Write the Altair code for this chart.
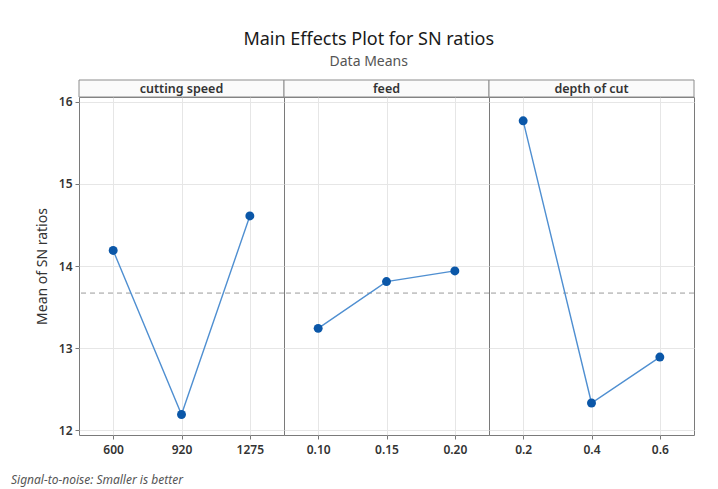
import altair as alt
import pandas as pd

factors = ["cutting speed", "feed", "depth of cut"]
speed_levels = ["600", "920", "1275"]
speed_sn = [14.19, 12.19, 14.61]
feed_levels = ["0.10", "0.15", "0.20"]
feed_sn = [13.24, 13.81, 13.94]
depth_levels = ["0.2", "0.4", "0.6"]
depth_sn = [15.77, 12.33, 12.89]
grand_mean = [13.67]
y_ticks = [12, 13, 14, 15, 16]
footnote = ["Signal-to-noise: Smaller is better"]

W, H = 205, 338
STRIP = 17
FONT = "Noto Sans"
LINE = "#4f8fd1"
DOT = "#0b57a8"


def panel(name, levels, values, first):
    df = pd.DataFrame({"level": levels, "sn": values})
    xenc = alt.X(
        "level:N",
        sort=levels,
        scale=alt.Scale(type="point", padding=0.5),
        axis=alt.Axis(title=None, labelAngle=0, grid=True, labelPadding=5),
    )
    if first:
        yaxis = alt.Axis(values=y_ticks, format="d", title="Mean of SN ratios", grid=True,
                         titlePadding=9, labelPadding=3)
    else:
        yaxis = alt.Axis(values=y_ticks, title=None, grid=True, labels=False,
                         ticks=False, domain=False)
    yenc = alt.Y("sn:Q", scale=alt.Scale(domain=[11.94, 16.06], nice=False, zero=False),
                 axis=yaxis)
    base = alt.Chart(df)
    line = base.mark_line(color=LINE, strokeWidth=1.4).encode(x=xenc, y=yenc)
    pts = base.mark_point(filled=True, color=DOT, size=80, opacity=1).encode(x=xenc, y=yenc)
    rule = alt.Chart(pd.DataFrame({"sn": grand_mean})).mark_rule(
        color="#9a9a9a", strokeDash=[5, 4], strokeWidth=1
    ).encode(y=alt.Y("sn:Q"))
    sdf = pd.DataFrame({"name": [name]})
    strip = alt.Chart(sdf).mark_rect(fill="#fafafa", stroke="#8c8c8c", strokeWidth=1).encode(
        x=alt.value(0), x2=alt.value(W), y=alt.value(-STRIP), y2=alt.value(0)
    )
    stext = alt.Chart(sdf).mark_text(fontSize=12.5, color="#333", font=FONT, fontWeight=600,
                                     baseline="middle").encode(
        text="name:N", x=alt.value(W / 2), y=alt.value(-STRIP / 2)
    )
    layers = [rule, line, pts, strip, stext]
    if first:
        note = alt.Chart(pd.DataFrame({"note": footnote})).mark_text(
            align="left", baseline="middle", fontStyle="italic", fontSize=12,
            color="#555", font=FONT
        ).encode(text="note:N", x=alt.value(-68), y=alt.value(H + 45))
        layers.append(note)
    return alt.layer(*layers).properties(width=W, height=H)


chart = alt.hconcat(
    panel(factors[0], speed_levels, speed_sn, True),
    panel(factors[1], feed_levels, feed_sn, False),
    panel(factors[2], depth_levels, depth_sn, False),
    spacing=0,
    bounds="flush",
).properties(
    title=alt.TitleParams(
        "Main Effects Plot for SN ratios",
        subtitle="Data Means",
        anchor="middle",
        fontSize=18,
        fontWeight="normal",
        color="#1a1a1a",
        subtitleFontSize=14,
        subtitleColor="#555",
        subtitlePadding=6,
        font=FONT,
        subtitleFont=FONT,
        offset=10,
        dx=16,
    ),
    padding={"left": 2, "top": 23, "right": 5, "bottom": 0},
).configure_view(
    stroke="#7a7a7a", strokeWidth=1
).configure_axis(
    gridColor="#e6e6e6",
    domain=False,
    tickColor="#777",
    tickSize=4,
    labelFont=FONT,
    labelFontSize=12,
    labelFontWeight=600,
    labelColor="#333",
    titleFont=FONT,
    titleFontSize=14,
    titleFontWeight="normal",
    titleColor="#333",
)

chart.save("out.html", embed_options={"renderer": "svg", "actions": False})
